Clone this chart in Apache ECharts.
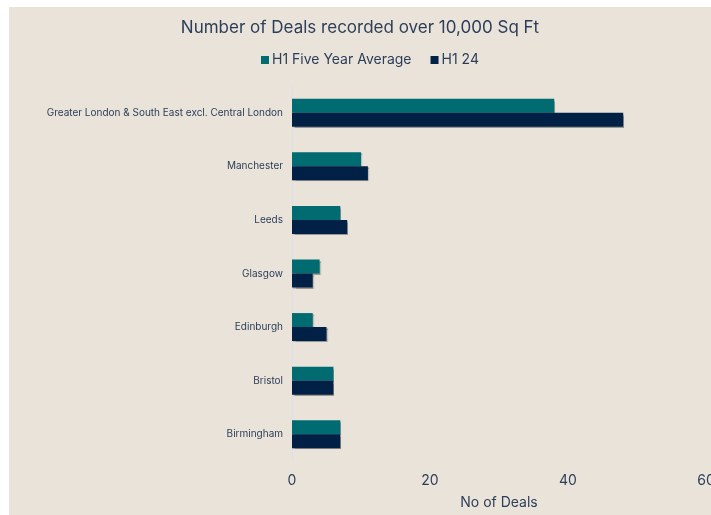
<!DOCTYPE html>
<html>
<head>
<meta charset="utf-8">
<script src="https://cdn.jsdelivr.net/npm/echarts@6/dist/echarts.min.js"></script>
<style>
  html, body { margin: 0; padding: 0; background: #ffffff; }
  #wrap { position: relative; width: 711px; height: 515px; overflow: hidden; }
  #chart { position: absolute; left: 9px; top: 7px; width: 702px; height: 508px; background: #e9e3da; }
</style>
</head>
<body>
<div id="wrap"><div id="chart"></div></div>
<script>
// regions, listed top to bottom
const regions = [
  'Greater London & South East excl. Central London',
  'Manchester',
  'Leeds',
  'Glasgow',
  'Edinburgh',
  'Bristol',
  'Birmingham'
];
const fiveYearAvg = [38, 10, 7, 4, 3, 6, 7];
const h124 = [48, 11, 8, 3, 5, 6, 7];
const xTicks = { min: 0, max: 60, interval: 20 };

const textColor = '#2d3e58';
const fontFam = 'Inter, "Noto Sans", sans-serif';

const myChart = echarts.init(document.getElementById('chart'));
const barShadow = {
  shadowColor: 'rgba(60,60,60,0.45)',
  shadowBlur: 1,
  shadowOffsetX: 1,
  shadowOffsetY: 1
};

const option = {
  backgroundColor: '#e9e3da',
  animation: false,
  textStyle: { fontFamily: fontFam },
  title: {
    text: 'Number of Deals recorded over 10,000 Sq Ft',
    left: 'center',
    top: 7,
    textStyle: { color: textColor, fontSize: 17, fontWeight: 400, fontFamily: fontFam }
  },
  legend: {
    top: 41,
    left: 247,
    itemWidth: 8,
    itemHeight: 8,
    itemGap: 19,
    icon: 'rect',
    selectedMode: false,
    textStyle: { color: textColor, fontSize: 14, fontFamily: fontFam, padding: [0, 0, 0, -2] }
  },
  grid: { left: 283, right: 5, top: 79, bottom: 54, outerBoundsMode: 'none', containLabel: false },
  xAxis: {
    type: 'value',
    min: xTicks.min,
    max: xTicks.max,
    interval: xTicks.interval,
    name: 'No of Deals',
    nameLocation: 'middle',
    nameGap: 35,
    nameTextStyle: { color: textColor, fontSize: 14, fontFamily: fontFam },
    axisLine: { show: false },
    axisTick: { show: false },
    splitLine: { show: false },
    axisLabel: { color: textColor, fontSize: 14, margin: 13, fontFamily: fontFam, showMaxLabel: true }
  },
  yAxis: {
    type: 'category',
    data: regions,
    inverse: true,
    axisLine: { show: true, lineStyle: { color: '#dde0ea', width: 1 } },
    axisTick: { show: false },
    axisLabel: { color: textColor, fontSize: 10, margin: 9, fontFamily: fontFam }
  },
  series: [
    {
      name: 'H1 Five Year Average',
      type: 'bar',
      data: fiveYearAvg,
      barWidth: 14,
      barGap: '0%',
      itemStyle: Object.assign({ color: '#006b70' }, barShadow)
    },
    {
      name: 'H1 24',
      type: 'bar',
      data: h124,
      barWidth: 14,
      barGap: '0%',
      itemStyle: Object.assign({ color: '#002145' }, barShadow)
    }
  ]
};
myChart.setOption(option);
</script>
</body>
</html>
